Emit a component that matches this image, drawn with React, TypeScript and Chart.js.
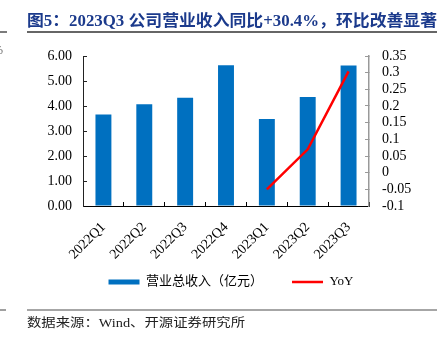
import React, { useEffect, useRef } from 'react';
import { Chart, registerables } from 'chart.js';

Chart.register(...registerables);

const categories = ['2022Q1', '2022Q2', '2022Q3', '2022Q4', '2023Q1', '2023Q2', '2023Q3'];
const revenue = [3.66, 4.07, 4.33, 5.63, 3.48, 4.36, 5.62];
const yoy: (number | null)[] = [null, null, null, null, -0.05, 0.07, 0.304];
const revenueLabel = '营业总收入（亿元）';
const yoyLabel = 'YoY';
const titleText = '图5：2023Q3 公司营业收入同比+30.4%，环比改善显著';
const sourceText = '数据来源：Wind、开源证券研究所';

const FONT = "'Liberation Serif', 'Noto Sans CJK SC', serif";

const legendShift = {
  id: 'legendShift',
  afterLayout(chart: any) {
    if (chart.legend) {
      chart.legend.top -= 19.5;
      chart.legend.bottom -= 19.5;
    }
  },
};

export default function App() {
  const ref = useRef<HTMLCanvasElement | null>(null);

  useEffect(() => {
    if (!ref.current) return;
    const chart = new Chart(ref.current, {
      type: 'bar',
      data: {
        labels: categories,
        datasets: [
          {
            type: 'bar',
            label: revenueLabel,
            data: revenue,
            backgroundColor: '#0070C0',
            borderWidth: 0,
            yAxisID: 'y',
            barPercentage: 0.39,
            categoryPercentage: 1,
            order: 2,
          },
          {
            type: 'line',
            label: yoyLabel,
            data: yoy,
            borderColor: '#FF0000',
            backgroundColor: '#FF0000',
            borderWidth: 2.5,
            pointRadius: 0,
            tension: 0,
            yAxisID: 'y1',
            order: 1,
          },
        ],
      },
      plugins: [legendShift],
      options: {
        animation: false,
        responsive: false,
        maintainAspectRatio: false,
        layout: { padding: { left: 22, right: 0, top: 56, bottom: 23 } },
        font: { family: FONT },
        plugins: {
          tooltip: { enabled: false },
          legend: {
            position: 'bottom',
            labels: {
              font: { family: FONT, size: 13 },
              color: '#000',
              usePointStyle: true,
              pointStyleWidth: 31,
              boxHeight: 5,
              padding: 29,
              generateLabels: () => [
                {
                  text: revenueLabel,
                  fillStyle: '#0070C0',
                  strokeStyle: '#0070C0',
                  lineWidth: 0,
                  pointStyle: 'rect',
                  datasetIndex: 0,
                  hidden: false,
                },
                {
                  text: yoyLabel,
                  fillStyle: '#FF0000',
                  strokeStyle: '#FF0000',
                  lineWidth: 2.5,
                  pointStyle: 'line',
                  datasetIndex: 1,
                  hidden: false,
                },
              ],
            },
          },
        },
        scales: {
          x: {
            offset: true,
            grid: {
              offset: true,
              drawOnChartArea: false,
              drawTicks: true,
              tickLength: -4,
              color: '#000',
            },
            border: { display: true, color: '#000', width: 1 },
            ticks: {
              font: { family: FONT, size: 14 },
              color: '#000',
              maxRotation: 45,
              minRotation: 45,
              padding: 17,
              autoSkip: false,
            },
            afterFit: (s: any) => {
              s.height = 60;
            },
          },
          y: {
            position: 'left',
            min: 0,
            max: 6,
            ticks: {
              stepSize: 1,
              autoSkip: false,
              font: { family: FONT, size: 14 },
              color: '#000',
              padding: 15,
              callback: (v: any) => Number(v).toFixed(2),
            },
            grid: {
              drawOnChartArea: false,
              drawTicks: true,
              tickLength: -4,
              color: '#222',
            },
            border: { display: true, color: '#222', width: 1 },
            afterFit: (s: any) => {
              s.width = 61;
            },
          },
          y1: {
            position: 'right',
            min: -0.1,
            max: 0.35,
            ticks: {
              stepSize: 0.05,
              autoSkip: false,
              font: { family: FONT, size: 14 },
              color: '#000',
              padding: 17,
              callback: (v: any) => String(Number(Number(v).toFixed(2))),
            },
            grid: {
              drawOnChartArea: false,
              drawTicks: true,
              tickLength: -4,
              color: '#999',
            },
            border: { display: true, color: '#999', width: 1.5 },
            afterFit: (s: any) => {
              s.width = 71;
            },
          },
        },
      },
    });
    return () => chart.destroy();
  }, []);

  return (
    <div style={{ position: 'absolute', left: 0, top: 0, width: 440, height: 341, background: '#fff', overflow: 'hidden' }}>
      <canvas ref={ref} width={440} height={341} style={{ position: 'absolute', left: 0, top: 0, width: 440, height: 341 }} />
      <svg width={440} height={341} style={{ position: 'absolute', left: 0, top: 0, pointerEvents: 'none' }}>
        <text
          x={27}
          y={26}
          textLength={410}
          lengthAdjust="spacingAndGlyphs"
          fill="#1b3a8c"
          fontWeight="bold"
          fontSize={16}
          fontFamily={FONT}
        >
          {titleText}
        </text>
        <line x1={27} y1={32} x2={437} y2={32} stroke="#333" strokeWidth={1.3} />
        <line x1={0} y1={32} x2={7} y2={32} stroke="#333" strokeWidth={1.3} />
        <line x1={27} y1={310} x2={437} y2={310} stroke="#888" strokeWidth={1.6} />
        <line x1={0} y1={310} x2={6} y2={310} stroke="#888" strokeWidth={1.6} />
        <text x={-7} y={54} fontSize={12} fill="#666" fontFamily={FONT}>%</text>
        <text
          x={27}
          y={327}
          textLength={218}
          lengthAdjust="spacingAndGlyphs"
          fill="#222"
          fontSize={12.5}
          fontFamily={FONT}
        >
          {sourceText}
        </text>
      </svg>
    </div>
  );
}
